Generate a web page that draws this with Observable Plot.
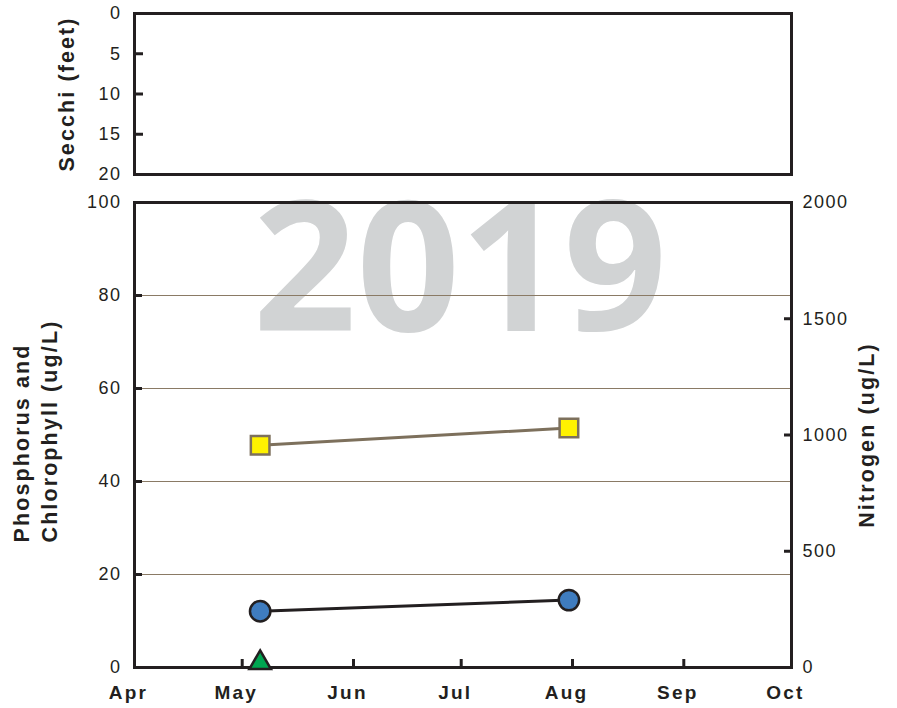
<!DOCTYPE html>
<html>
<head>
<meta charset="utf-8">
<script src="https://cdn.jsdelivr.net/npm/d3@7"></script>
<script src="https://cdn.jsdelivr.net/npm/@observablehq/plot@0.6"></script>
<style>
  body { margin: 0; background: #fff; }
  #chart { position: relative; width: 897px; height: 708px; }
  #chart svg { display: block; position: absolute; left: 0; top: 0; }
</style>
</head>
<body>
<div id="chart"></div>
<script>
// ---- data ----
const monthTicks = ["2019-04-01", "2019-05-01", "2019-06-01", "2019-07-01", "2019-08-01", "2019-09-01", "2019-10-01"];
const secchiTicks = [0, 5, 10, 15, 20];
const leftTicks = [0, 20, 40, 60, 80, 100];
const nitrogenTicks = [0, 500, 1000, 1500, 2000];

const secchiDates = [];
const secchiValues = [];

const phosphorusDates = ["2019-05-06", "2019-07-31"];
const phosphorusValues = [12.1, 14.5];

const nitrogenDates = ["2019-05-06", "2019-07-31"];
const nitrogenValues = [956, 1030];

const chlorophyllDates = ["2019-05-06"];
const chlorophyllValues = [1.0];

const yearLabel = "2019";

// ---- build ----
const ink = "#231f20";
const W = 897, ML = 134, MR = 106;
const N_RATIO = 20; // nitrogen axis (0-2000) vs left axis (0-100)
const months = monthTicks.map(d => new Date(d));
const xDomain = [months[0], months[months.length - 1]];

const secchiData = secchiDates.map((d, i) => ({date: new Date(d), value: secchiValues[i]}));
const phos = phosphorusDates.map((d, i) => ({date: new Date(d), value: phosphorusValues[i]}));
const nitro = nitrogenDates.map((d, i) => ({date: new Date(d), value: nitrogenValues[i]}));
const chl = chlorophyllDates.map((d, i) => ({date: new Date(d), value: chlorophyllValues[i]}));

const baseStyle = {fontFamily: "'Liberation Sans', Arial, sans-serif", fontSize: "18px", color: ink};

// lower panel: full-page SVG, drawn first (white background)
const bottomPlot = Plot.plot({
  width: W, height: 708,
  marginTop: 202, marginBottom: 41, marginLeft: ML, marginRight: MR,
  style: {...baseStyle, background: "white"},
  x: {type: "utc", domain: xDomain},
  y: {domain: [0, 100]},
  marks: [
    Plot.text([yearLabel], {frameAnchor: "top", lineAnchor: "bottom", dy: 128, dx: -3, fontSize: 181, fontWeight: 700, fontFamily: "'Open Sans'", fill: "#d1d3d4"}),
    Plot.gridY(leftTicks.slice(1, -1), {stroke: "#8a7a65", strokeOpacity: 1, strokeWidth: 1}),
    Plot.frame({stroke: ink, strokeWidth: 3}),
    Plot.axisY(leftTicks.slice(1, -1), {anchor: "left", tickSize: 8, dx: 8, fill: "none", stroke: ink, strokeWidth: 3, label: null}),
    Plot.axisY(leftTicks, {anchor: "left", tickSize: 0, tickPadding: 13, fill: ink, label: null}),
    Plot.axisY(nitrogenTicks.slice(1, -1).map(n => n / N_RATIO), {anchor: "right", tickSize: 8, dx: -8, fill: "none", stroke: ink, strokeWidth: 3, label: null}),
    Plot.axisY(nitrogenTicks.map(n => n / N_RATIO), {anchor: "right", tickSize: 0, tickPadding: 11, fill: ink, tickFormat: d => String(Math.round(d * N_RATIO)), label: null}),
    Plot.axisX(months.slice(1, -1), {anchor: "bottom", tickSize: 8, dy: -8, fill: "none", stroke: ink, strokeWidth: 3, label: null}),
    Plot.axisX(months, {anchor: "bottom", tickSize: 0, tickPadding: 18, dx: -6, fill: ink, fontWeight: 700, fontSize: 19, tickFormat: d3.utcFormat("%b"), label: null}),
    Plot.line(nitro, {x: "date", y: d => d.value / N_RATIO, stroke: "#7d705c", strokeWidth: 3}),
    Plot.dot(nitro, {x: "date", y: d => d.value / N_RATIO, symbol: "square", r: 10.5, fill: "#fff200", stroke: "#7d705c", strokeWidth: 2.5}),
    Plot.line(phos, {x: "date", y: "value", stroke: ink, strokeWidth: 3}),
    Plot.dot(phos, {x: "date", y: "value", r: 10.2, fill: "#3f7cbf", stroke: ink, strokeWidth: 2.5}),
    Plot.dot(chl, {x: "date", y: "value", symbol: "triangle", r: 8, fill: "#00a651", stroke: ink, strokeWidth: 2.5}),
    Plot.text(["Phosphorus and"], {frameAnchor: "bottom-left", rotate: -90, textAnchor: "start", dx: -106, dy: -125, fontWeight: 700, fontSize: 21.5, fill: ink}),
    Plot.text(["Chlorophyll (ug/L)"], {frameAnchor: "bottom-left", rotate: -90, textAnchor: "start", dx: -78, dy: -125, fontWeight: 700, fontSize: 21.5, fill: ink}),
    Plot.text(["Nitrogen (ug/L)"], {frameAnchor: "right", rotate: -90, textAnchor: "middle", dx: 76, fontWeight: 700, fontSize: 21.5, fill: ink})
  ]
});

// upper (Secchi) panel: transparent SVG laid over the top of the page
const topPlot = Plot.plot({
  width: W, height: 190,
  marginTop: 13, marginBottom: 16, marginLeft: ML, marginRight: MR,
  style: {...baseStyle, background: "transparent"},
  x: {type: "utc", domain: xDomain, axis: null},
  y: {domain: [0, 20], reverse: true},
  marks: [
    Plot.line(secchiData, {x: "date", y: "value", stroke: ink, strokeWidth: 3}),
    Plot.frame({stroke: ink, strokeWidth: 3}),
    Plot.axisY(secchiTicks.slice(1, -1), {anchor: "left", tickSize: 9, dx: 9, fill: "none", stroke: ink, strokeWidth: 3, label: null}),
    Plot.axisY(secchiTicks, {anchor: "left", tickSize: 0, tickPadding: 13, fill: ink, label: null}),
    Plot.text(["Secchi (feet)"], {frameAnchor: "left", rotate: -90, textAnchor: "middle", dx: -67, fontWeight: 700, fontSize: 21.5, fill: ink})
  ]
});

const chart = document.getElementById("chart");
chart.append(bottomPlot, topPlot);

const titles = new Set(["Secchi (feet)", "Phosphorus and", "Chlorophyll (ug/L)", "Nitrogen (ug/L)"]);
const monthNames = new Set(["Apr", "May", "Jun", "Jul", "Aug", "Sep", "Oct"]);
d3.select(chart).selectAll("svg text").each(function () {
  const t = this.textContent;
  let ls = "1.5px";
  if (titles.has(t)) ls = "2.1px";
  else if (monthNames.has(t)) ls = "2.2px";
  else if (t === yearLabel) ls = "0px";
  this.style.letterSpacing = ls;
});
</script>
</body>
</html>
